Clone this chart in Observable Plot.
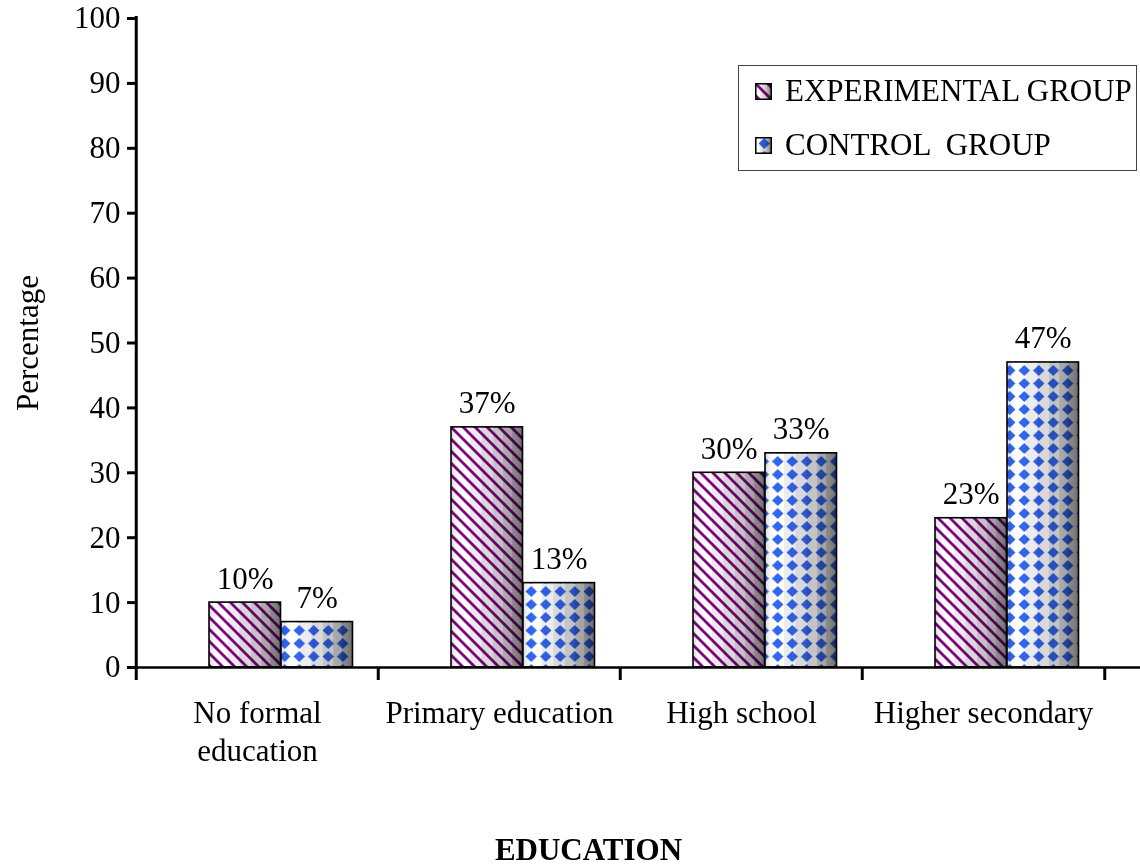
<!DOCTYPE html>
<html>
<head>
<meta charset="utf-8">
<script src="https://cdn.jsdelivr.net/npm/d3@7"></script>
<script src="https://cdn.jsdelivr.net/npm/@observablehq/plot@0.6"></script>
<style>
  html, body { margin: 0; padding: 0; background: #fff; }
  #wrap { position: relative; width: 1140px; height: 866px; font-family: "Liberation Serif", "Times New Roman", serif; }
  #legend {
    position: absolute; left: 738px; top: 65px; width: 399px; height: 106px;
    border: 1px solid #444; box-sizing: border-box; background: #fff;
  }
  .item { position: absolute; left: 16px; display: flex; align-items: center; font-size: 31px; line-height: 34px; color: #000; white-space: pre; }
  .item svg { margin-right: 13px; }
</style>
</head>
<body>
<div id="wrap"></div>
<script>
// Education level of respondents, % per group
const categories = ["No formal education", "Primary education", "High school", "Higher secondary"];
const categoryLabels = ["No formal\neducation", "Primary education", "High school", "Higher secondary"];
const experimental = [10, 37, 30, 23];
const control = [7, 13, 33, 47];
const seriesNames = ["EXPERIMENTAL GROUP", "CONTROL  GROUP"];
const yTicks = [0, 10, 20, 30, 40, 50, 60, 70, 80, 90, 100];

const rows = categories.map((c, i) => ({category: c, experimental: experimental[i], control: control[i]}));
const labelOf = new Map(categories.map((c, i) => [c, categoryLabels[i]]));

const W = 1140, H = 866, mL = 135, mR = 35, mT = 18, mB = 199;
const step = (W - mL - mR) / categories.length;
const frameH = H - mT - mB;

// bar slots inside each category band
const expInset = {insetLeft: 73, insetRight: step - 145};
const ctlInset = {insetLeft: 145, insetRight: step - 217};

const font = {fontFamily: "Liberation Serif, Times New Roman, serif"};
const fs = 31;

const chart = Plot.plot({
  width: W, height: H,
  marginLeft: mL, marginRight: mR, marginTop: mT, marginBottom: mB,
  style: {...font, fontSize: fs + "px", color: "#000", background: "#fff", overflow: "visible"},
  x: {domain: categories, padding: 0, axis: null},
  y: {domain: [0, 100], axis: null},
  marks: [
    // shaded cylinders + patterns
    Plot.barY(rows, {x: "category", y: "experimental", fill: "url(#shade)", ...expInset}),
    Plot.barY(rows, {x: "category", y: "experimental", fill: "url(#stripes)", mixBlendMode: "multiply", ...expInset}),
    Plot.barY(rows, {x: "category", y: "experimental", fill: "none", stroke: "#000", strokeWidth: 1.6, ...expInset}),
    Plot.barY(rows, {x: "category", y: "control", fill: "url(#shade)", ...ctlInset}),
    Plot.barY(rows, {x: "category", y: "control", fill: "url(#diamonds)", mixBlendMode: "multiply", ...ctlInset}),
    Plot.barY(rows, {x: "category", y: "control", fill: "none", stroke: "#000", strokeWidth: 1.6, ...ctlInset}),
    // value labels
    Plot.text(rows, {x: "category", y: "experimental", text: d => d.experimental + "%", dx: 109 - step / 2, dy: -24, fontSize: fs, fill: "#000"}),
    Plot.text(rows, {x: "category", y: "control", text: d => d.control + "%", dx: 181 - step / 2, dy: -24, fontSize: fs, fill: "#000"}),
    // axes
    Plot.ruleY([0], {strokeWidth: 2.5, insetRight: -mR}),
    Plot.ruleX([categories[0]], {dx: -step / 2, strokeWidth: 3, insetTop: -2, insetBottom: -13}),
    Plot.ruleX(categories.slice(1), {dx: -step / 2, strokeWidth: 3, insetTop: frameH, insetBottom: -13}),
    Plot.ruleX([categories[categories.length - 1]], {dx: step / 2, strokeWidth: 3, insetTop: frameH, insetBottom: -13}),
    Plot.axisY(yTicks, {tickSize: 8, tickPadding: 7, strokeWidth: 3, fontSize: fs, label: null}),
    Plot.axisX({tickSize: 0, tickPadding: 28, fontSize: fs, lineHeight: 1.23, tickFormat: d => labelOf.get(d), label: null}),
    Plot.text(["Percentage"], {frameAnchor: "left", textAnchor: "middle", dx: -107, rotate: -90, fontSize: fs, fill: "#000"}),
    Plot.text(["EDUCATION"], {frameAnchor: "bottom", dx: -32, dy: 192, fontSize: fs, fontWeight: "bold", fill: "#000"})
  ]
});

// gradient + fill patterns used by the bars
const defs = d3.select(chart).insert("defs", ":first-child");
const shade = defs.append("linearGradient").attr("id", "shade").attr("x1", 0).attr("x2", 1).attr("y1", 0).attr("y2", 0);
[[0, "#d8d8d8"], [0.06, "#f4f4f4"], [0.12, "#ffffff"], [0.26, "#ffffff"], [0.27, "#ececec"], [0.42, "#ececec"],
 [0.43, "#d9d9d9"], [0.58, "#d9d9d9"], [0.59, "#c4c4c4"], [0.72, "#c4c4c4"], [0.73, "#adadad"], [0.85, "#a2a2a2"],
 [0.86, "#8c8c8c"], [0.94, "#7e7e7e"], [1, "#6a6a6a"]]
  .forEach(([o, c]) => shade.append("stop").attr("offset", o).attr("stop-color", c));

const stripes = defs.append("pattern").attr("id", "stripes").attr("patternUnits", "userSpaceOnUse")
  .attr("width", 12).attr("height", 12);
stripes.append("rect").attr("width", 12).attr("height", 12).attr("fill", "#fff");
stripes.append("path").attr("d", "M-3,-3 L15,15 M-3,9 L3,15 M9,-3 L15,3")
  .attr("stroke", "#86008a").attr("stroke-width", 2.8);

const diamonds = defs.append("pattern").attr("id", "diamonds").attr("patternUnits", "userSpaceOnUse")
  .attr("width", 14.5).attr("height", 13).attr("x", 2);
diamonds.append("rect").attr("width", 14.5).attr("height", 13).attr("fill", "#fff");
diamonds.append("path").attr("d", "M7.25,1 L13,6.5 L7.25,12 L1.5,6.5 Z").attr("fill", "#2f66f5");

const wrap = document.getElementById("wrap");
wrap.appendChild(chart);

// legend box
const legend = document.createElement("div");
legend.id = "legend";
const swatch = (fill) => `<svg width="17" height="17"><rect x="0.75" y="0.75" width="15.5" height="15.5" fill="url(#shade)"/><rect x="0.75" y="0.75" width="15.5" height="15.5" fill="url(#${fill})" style="mix-blend-mode:multiply"/><rect x="0.75" y="0.75" width="15.5" height="15.5" fill="none" stroke="#000" stroke-width="1.5"/></svg>`;
legend.innerHTML =
  `<div class="item" style="top:8px">${swatch("stripes")}${seriesNames[0]}</div>` +
  `<div class="item" style="top:62px">${swatch("diamonds")}${seriesNames[1]}</div>`;
wrap.appendChild(legend);
</script>
</body>
</html>
